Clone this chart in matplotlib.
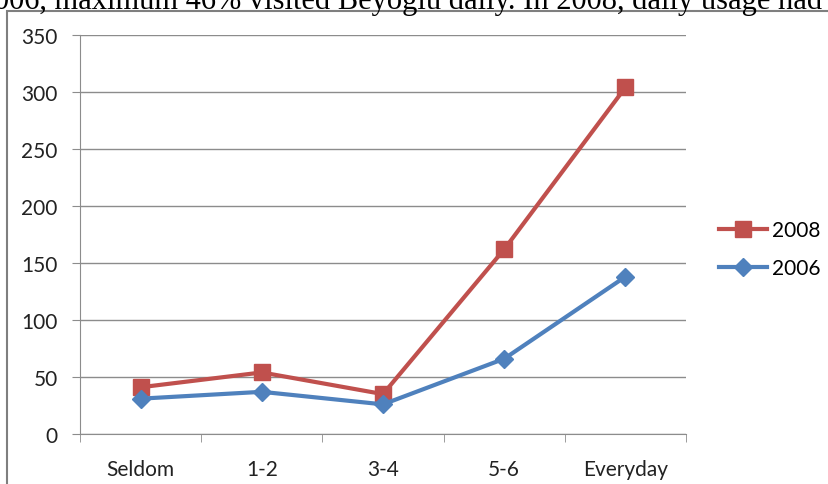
import numpy as np
import matplotlib.pyplot as plt
from matplotlib.patches import Rectangle

categories = ['Seldom', '1-2', '3-4', '5-6', 'Everyday']
y2008 = [41, 54, 35, 162, 304]
y2006 = [31, 37, 26, 66, 138]
yticks = [0, 50, 100, 150, 200, 250, 300, 350]

W, H = 829, 485
fig = plt.figure(figsize=(W / 100, H / 100), dpi=100)

# cropped line of document text above the chart
fig.text(-6 / W, 1.0 - 9 / H, '006, maximum 46% visited Beyoğlu daily. In 2008, daily usage had',
         family='Liberation Serif', fontsize=22, va='baseline', ha='left')

# chart frame
fig.patches.append(Rectangle((7.5 / W, -0.1), 1.0, (H - 12) / H + 0.1,
                             transform=fig.transFigure, fill=False,
                             edgecolor='#7f7f7f', linewidth=1.5))

ax = fig.add_axes([80 / W, (H - 435) / H, (686 - 80) / W, (435 - 36) / H])
x = np.arange(len(categories))
ax.plot(x, y2008, color='#c0504d', linewidth=3, marker='s', markersize=12, label='2008')
ax.plot(x, y2006, color='#4f81bd', linewidth=3, marker='D', markersize=9.5, label='2006')

ax.set_xlim(-0.5, len(categories) - 0.5)
ax.set_ylim(0, 350)
ax.set_yticks(yticks)
ax.grid(axis='y', color='#8c8c8c', linewidth=1)
ax.set_axisbelow(True)
ax.set_xticks(x)
ax.set_xticklabels(categories)
ax.set_xticks(np.arange(-0.5, len(categories)), minor=True)
ax.tick_params(axis='x', which='major', length=0, pad=18)
ax.tick_params(axis='x', which='minor', length=6, color='#8c8c8c')
ax.tick_params(axis='y', length=6, color='#8c8c8c', pad=10)
for lab in ax.get_xticklabels() + ax.get_yticklabels():
    lab.set_family('Lato')
    lab.set_fontsize(15)
    lab.set_color('#222222')
for s in ['top', 'right']:
    ax.spines[s].set_visible(False)
for s in ['left', 'bottom']:
    ax.spines[s].set_color('#8c8c8c')

leg = ax.legend(loc='center left', bbox_to_anchor=(719 / W, (H - 250) / H),
                bbox_transform=fig.transFigure, frameon=False, borderpad=0, borderaxespad=0,
                prop={'family': 'Lato', 'size': 15}, handlelength=2.3,
                labelspacing=0.85, handletextpad=0.25)

fig.savefig('out.png', dpi=100)
